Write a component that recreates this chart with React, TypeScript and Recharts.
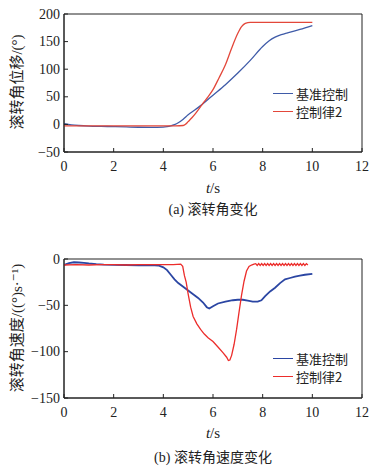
import React from 'react';
import { LineChart, Line, XAxis, YAxis, ReferenceArea } from 'recharts';

// ---------- (a) roll angle displacement ----------
const posBlueT = [0, 0.3, 0.6, 1, 1.5, 2, 2.5, 3, 3.5, 4, 4.15, 4.3, 4.45, 4.6, 4.8, 5, 5.25, 5.5, 5.75, 6, 6.5, 7, 7.5, 8, 8.25, 8.5, 8.75, 9, 9.5, 10];
const posBlueV = [1.2, -0.8, -2, -3, -3.6, -4, -4.6, -5.2, -5.4, -5, -4.2, -2.6, -0.3, 3, 9.5, 17.5, 25.5, 34, 43.5, 53, 72, 93, 116, 141, 151, 158, 162.5, 166, 172, 179];
const posRedT = [0, 1, 2, 3, 4, 4.5, 4.8, 4.9, 5, 5.15, 5.3, 5.45, 5.6, 5.8, 6, 6.25, 6.5, 6.75, 7, 7.15, 7.3, 7.5, 8, 9, 10];
const posRedV = [-2.5, -2.5, -2.5, -2.5, -2.5, -2.5, -2, 0.5, 5, 12, 20, 29, 38.5, 50, 63, 85, 108, 138, 165, 177, 183, 185, 185, 185, 185];

// ---------- (b) roll angular velocity ----------
const velBlueT = [0, 0.2, 0.4, 0.6, 0.8, 1.0, 1.3, 1.6, 2, 2.5, 3, 3.5, 3.8, 4.0, 4.15, 4.3, 4.45, 4.6, 4.8, 5.0, 5.2, 5.4, 5.6, 5.75, 5.85, 6.0, 6.2, 6.5, 6.8, 7.0, 7.2, 7.4, 7.6, 7.8, 7.95, 8.1, 8.3, 8.5, 8.7, 8.9, 9.1, 9.3, 9.5, 9.7, 10];
const velBlueV = [-6.5, -4.5, -3.5, -3.8, -4.2, -4.8, -5.5, -6, -6.3, -6.5, -6.8, -6.5, -7, -9, -12, -17, -22, -26, -30, -34, -38, -42, -47, -52, -53.5, -51, -48, -46, -44.5, -44, -44, -45, -46, -46, -44.5, -40, -35, -31, -26, -22, -20.5, -19, -18, -17, -16];
const velRedT = [0, 0.5, 1, 1.5, 2, 2.5, 3, 3.5, 4, 4.4, 4.7, 4.78, 4.85, 4.92, 5.0, 5.1, 5.2, 5.35, 5.5, 5.65, 5.8, 6.0, 6.2, 6.4, 6.55, 6.62, 6.68, 6.75, 6.85, 6.95, 7.05, 7.15, 7.25, 7.35, 7.45, 7.55, 7.65,
  7.72, 7.78, 7.84, 7.9, 7.96, 8.02, 8.08, 8.14, 8.2, 8.26, 8.32, 8.38, 8.44, 8.5, 8.56, 8.62, 8.68, 8.74, 8.8, 8.86, 8.92, 8.98, 9.04, 9.1, 9.16, 9.22, 9.28, 9.34, 9.4, 9.46, 9.52, 9.58, 9.64, 9.7, 9.76, 9.82, 9.88, 9.94, 10];
const velRedV = [-6.5, -6, -6.5, -6, -6, -6.5, -6, -6, -6, -6, -5.5, -8, -18, -25, -38, -52, -62, -70, -76, -81, -85, -89, -95, -101, -106, -109.5, -109, -104, -92, -76, -57, -39, -24, -13, -8, -6.5, -5.5,
  -5, -7, -5, -7, -5, -7, -5, -7, -5, -7, -5, -7, -5, -7, -5, -7, -5, -7, -5, -7, -5, -7, -5, -7, -5, -7, -5, -7, -5, -7, -5, -7, -5, -7, -5, -6.5];

const xTicks = [0, 2, 4, 6, 8, 10, 12];
const posTicks = [-50, 0, 50, 100, 150, 200];
const velTicks = [-150, -100, -50, 0];
const seriesNames = ['基准控制', '控制律2'];

const toRows = (t: number[], v: number[]) => t.map((x, i) => ({ t: x, v: v[i] }));

const SERIF = "'Liberation Serif', 'Times New Roman', 'DejaVu Serif', serif";
const CJK = "'Noto Sans CJK SC'";
const MIXED = "'Liberation Serif', 'Times New Roman', 'DejaVu Serif', 'Noto Sans CJK SC', serif";
const AX = '#222';

const fmt = (v: number) => String(v).replace('-', '\u2212');

const XTick = (props: any) => {
  const { x, y, payload } = props;
  return (
    <g>
      <line x1={x} x2={x} y1={y} y2={y - 4} stroke={AX} strokeWidth={1} />
      <text x={x} y={y + 19} textAnchor="middle" style={{ fontFamily: SERIF, fontSize: 14 }} fill={AX}>
        {fmt(payload.value)}
      </text>
    </g>
  );
};

const YTick = (props: any) => {
  const { x, y, payload } = props;
  return (
    <g>
      <line x1={x} x2={x + 4} y1={y} y2={y} stroke={AX} strokeWidth={1} />
      <text x={x - 4} y={y + 4.5} textAnchor="end" style={{ fontFamily: SERIF, fontSize: 14 }} fill={AX}>
        {fmt(payload.value)}
      </text>
    </g>
  );
};

const LegendBox = ({ top, left, colors }: { top: number; left: number; colors: string[] }) => (
  <div style={{ position: 'absolute', top, left }}>
    {seriesNames.map((n, i) => (
      <div key={n} style={{ display: 'flex', alignItems: 'center', height: 18 }}>
        <div style={{ width: 20, height: 0, borderTop: `1.5px solid ${colors[i]}`, marginRight: 3 }} />
        <span style={{ fontFamily: CJK, fontSize: 13, color: AX, lineHeight: '15px' }}>{n}</span>
      </div>
    ))}
  </div>
);

const VLabel = ({ cx, cy, children }: { cx: number; cy: number; children: React.ReactNode }) => (
  <div
    style={{
      position: 'absolute',
      left: cx,
      top: cy,
      transform: 'translate(-50%, -50%) rotate(-90deg)',
      whiteSpace: 'nowrap',
      fontFamily: MIXED,
      fontSize: 15,
      color: AX,
      lineHeight: '18px',
    }}
  >
    {children}
  </div>
);

const XLabel = ({ top }: { top: number }) => (
  <div style={{ position: 'absolute', left: 0, width: 426, top, textAlign: 'center', fontFamily: SERIF, fontSize: 15, color: AX, lineHeight: '18px' }}>
    <i>t</i>/s
  </div>
);

const Caption = ({ top, text }: { top: number; text: string }) => (
  <div style={{ position: 'absolute', left: 0, width: 426, top, textAlign: 'center', fontFamily: MIXED, fontSize: 14, color: AX, lineHeight: '18px' }}>
    {text}
  </div>
);

const blueA = '#3f5ba8';
const redA = '#e3473a';
const blueB = '#2b46a3';
const redB = '#ec2d2b';

export default function App() {
  return (
    <div style={{ position: 'absolute', left: 0, top: 0, width: 376, height: 473, background: '#fff', overflow: 'hidden' }}>
      <div style={{ position: 'absolute', left: 0, top: 0 }}>
        <LineChart width={376} height={230} margin={{ top: 14, right: 14, bottom: 0, left: 0 }}>
          <XAxis dataKey="t" type="number" domain={[0, 12]} ticks={xTicks} height={78} tickSize={0} tickMargin={0} tickLine={false} axisLine={{ stroke: AX }} tick={<XTick />} allowDataOverflow />
          <YAxis type="number" domain={[-50, 200]} ticks={posTicks} width={64} tickSize={0} tickMargin={0} tickLine={false} axisLine={{ stroke: AX }} tick={<YTick />} allowDataOverflow />
          <ReferenceArea x1={0} x2={12} y1={-50} y2={200} fill="none" stroke={AX} strokeWidth={1} />
          <Line data={toRows(posBlueT, posBlueV)} dataKey="v" name={seriesNames[0]} stroke={blueA} strokeWidth={1.3} dot={false} isAnimationActive={false} type="monotone" />
          <Line data={toRows(posRedT, posRedV)} dataKey="v" name={seriesNames[1]} stroke={redA} strokeWidth={1.3} dot={false} isAnimationActive={false} type="monotone" />
        </LineChart>
      </div>
      <VLabel cx={17} cy={82}>滚转角位移/(°)</VLabel>
      <LegendBox top={84} left={273} colors={[blueA, redA]} />
      <XLabel top={179} />
      <Caption top={201} text="(a) 滚转角变化" />

      <div style={{ position: 'absolute', left: 0, top: 240 }}>
        <LineChart width={376} height={233} margin={{ top: 19, right: 14, bottom: 0, left: 0 }}>
          <XAxis dataKey="t" type="number" domain={[0, 12]} ticks={xTicks} height={75} tickSize={0} tickMargin={0} tickLine={false} axisLine={{ stroke: AX }} tick={<XTick />} allowDataOverflow />
          <YAxis type="number" domain={[-150, 0]} ticks={velTicks} width={64} tickSize={0} tickMargin={0} tickLine={false} axisLine={{ stroke: AX }} tick={<YTick />} allowDataOverflow />
          <ReferenceArea x1={0} x2={12} y1={-150} y2={0} fill="none" stroke={AX} strokeWidth={1} />
          <Line data={toRows(velBlueT, velBlueV)} dataKey="v" name={seriesNames[0]} stroke={blueB} strokeWidth={1.8} dot={false} isAnimationActive={false} type="linear" />
          <Line data={toRows(velRedT, velRedV)} dataKey="v" name={seriesNames[1]} stroke={redB} strokeWidth={1.3} dot={false} isAnimationActive={false} type="linear" />
        </LineChart>
      </div>
      <VLabel cx={17} cy={328}>滚转角速度/((°)s·⁻¹)</VLabel>
      <LegendBox top={349} left={273} colors={[blueB, redB]} />
      <XLabel top={424} />
      <Caption top={449} text="(b) 滚转角速度变化" />
    </div>
  );
}
